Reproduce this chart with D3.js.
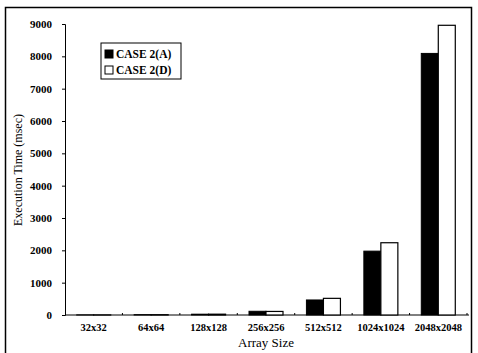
<!DOCTYPE html>
<html>
<head>
<meta charset="utf-8">
<script src="https://cdn.jsdelivr.net/npm/d3@7"></script>
<style>
body { margin: 0; background: #fff; }
text { font-family: "Liberation Serif", "Times New Roman", serif; }
</style>
</head>
<body>
<div class="Graph"></div>
<script>
// data
const sizes = ["32x32", "64x64", "128x128", "256x256", "512x512", "1024x1024", "2048x2048"];
const caseA = [3, 10, 25, 115, 465, 1975, 8090];
const caseD = [3, 10, 25, 110, 515, 2235, 8960];
const yTicks = [0, 1000, 2000, 3000, 4000, 5000, 6000, 7000, 8000, 9000];
const seriesNames = ["CASE 2(A)", "CASE 2(D)"];

const W = 478, H = 353;
const svg = d3.select(".Graph").append("svg")
    .attr("width", W).attr("height", H);

// outer frame
svg.append("rect").attr("x", 5.5).attr("y", 7.5).attr("width", 466).attr("height", 350)
    .attr("fill", "none").attr("stroke", "#000").attr("stroke-width", 1.5);

let x = d3.scaleBand().domain(sizes).range([65, 467]);
let y = d3.scaleLinear().domain([0, 9000]).range([315, 24]);

// y axis
let ya = svg.append("g").attr("transform", "translate(65,0)")
    .call(d3.axisLeft(y).tickValues(yTicks).tickSize(3).tickFormat(d3.format("d")));
ya.selectAll("text").attr("x", -13).style("font-size", "11px").style("font-weight", "bold");
ya.select(".domain").attr("stroke-width", 1);

// x axis
let xa = svg.append("g").attr("transform", "translate(0,315)")
    .call(d3.axisBottom(x).tickSize(0).tickPadding(9));
xa.selectAll("text").style("font-size", "10.5px").style("font-weight", "bold");
xa.select(".domain").attr("d", "M65,0H469");
// boundary ticks on x axis
xa.selectAll(".sep").data(sizes.slice(1).concat(["end"])).enter().append("line")
    .attr("class", "sep")
    .attr("x1", (d, i) => x.range()[0] + x.step() * (i + 1))
    .attr("x2", (d, i) => x.range()[0] + x.step() * (i + 1))
    .attr("y1", -2).attr("y2", 0).attr("stroke", "#000");

const bw = 17;
// bars
svg.selectAll(".barA").data(caseA).enter().append("rect")
    .attr("class", "barA")
    .attr("x", (d, i) => x(sizes[i]) + x.bandwidth() / 2 - bw)
    .attr("y", d => y(d))
    .attr("width", bw)
    .attr("height", d => y(0) - y(d))
    .attr("fill", "#000").attr("stroke", "#000").attr("stroke-width", 1);
svg.selectAll(".barD").data(caseD).enter().append("rect")
    .attr("class", "barD")
    .attr("x", (d, i) => x(sizes[i]) + x.bandwidth() / 2)
    .attr("y", d => y(d))
    .attr("width", bw)
    .attr("height", d => y(0) - y(d))
    .attr("fill", "#fff").attr("stroke", "#000").attr("stroke-width", 1.2);

// axis titles
svg.append("text").attr("x", 266).attr("y", 347).attr("text-anchor", "middle")
    .style("font-size", "13px").text("Array Size");
svg.append("text").attr("transform", "translate(22,170) rotate(-90)")
    .attr("text-anchor", "middle").style("font-size", "12px")
    .text("Execution Time (msec)");

// legend
let lg = svg.append("g").attr("transform", "translate(101,43)");
lg.append("rect").attr("width", 80).attr("height", 36)
    .attr("fill", "#fff").attr("stroke", "#000").attr("stroke-width", 1);
seriesNames.forEach((n, i) => {
    lg.append("rect").attr("x", 4).attr("y", 7 + i * 16).attr("width", 8).attr("height", 8)
        .attr("fill", i == 0 ? "#000" : "#fff").attr("stroke", "#000");
    lg.append("text").attr("x", 15).attr("y", 15 + i * 16)
        .style("font-size", "11.5px").style("font-weight", "bold").text(n);
});
</script>
</body>
</html>
